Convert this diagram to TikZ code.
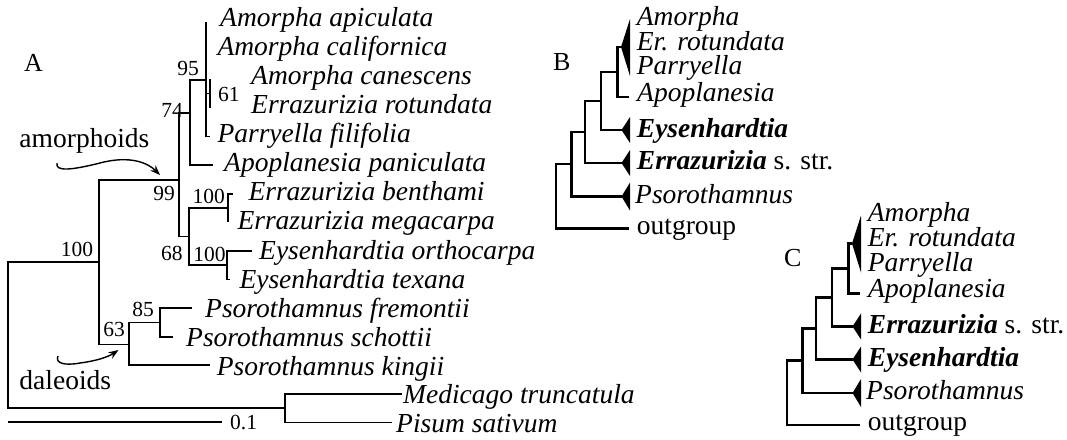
\documentclass[tikz,border=0pt]{standalone}
\usepackage{fontspec}
\setmainfont{Liberation Serif}
\usetikzlibrary{arrows.meta}

\tikzset{
  branchA/.style={line width=1.8pt, line join=miter},
  branchB/.style={line width=2.6pt, line join=miter},
  wedge/.style={fill=black},
  taxon/.style={inner sep=0pt, anchor=base west, font=\fontsize{27.5}{27.5}\selectfont\itshape},
  plainlbl/.style={inner sep=0pt, anchor=base west, font=\fontsize{27.5}{27.5}\selectfont},
  support/.style={inner sep=0pt, anchor=base east, font=\fontsize{21.5}{21.5}\selectfont},
  panel/.style={inner sep=0pt, anchor=base west, font=\fontsize{26}{26}\selectfont},
  callout/.style={line width=1.4pt, -{Stealth[length=10pt,width=7.5pt]}},
}

% collapsed cladogram used for panels B and C
\newcommand\cladepanel[4]{%
  \coordinate (#1amo) at (621,47);
  \coordinate (#1apo) at (628.5,97);
  \coordinate (#1t5) at (621.5,130);
  \coordinate (#1t6) at (621.5,163);
  \coordinate (#1t7) at (621.5,196.5);
  \coordinate (#1out) at (628.5,228.5);
  \coordinate (#1n1) at (617.7,72);
  \coordinate (#1n2) at (601,101);
  \coordinate (#1n3) at (585,132);
  \coordinate (#1n4) at (571.7,164);
  \coordinate (#1root) at (556,196);
  \foreach \p/\c in {n1/amo, n1/apo, n2/n1, n2/t5, n3/n2, n3/t6, n4/n3, n4/t7, root/n4, root/out}
    \draw[branchB] (#1\p) |- (#1\c);
  \fill[wedge] (#1amo) -- ++(9,-28) -- ++(0,57) -- cycle;
  \fill[wedge] (#1t5) -- ++(8.5,-13) -- ++(0,26) -- cycle;
  \fill[wedge] (#1t6) -- ++(8.5,-13) -- ++(0,26) -- cycle;
  \fill[wedge] (#1t7) -- ++(8.5,-14) -- ++(0,28) -- cycle;
  \node[panel] (#1letter) at (553,70) {#2};
  \node[taxon] (#1l1) at (636.7,25) {Amorpha};
  \node[taxon] (#1l2) at (636.7,50) {Er. rotundata};
  \node[taxon] (#1l3) at (636.7,74.5) {Parryella};
  \node[taxon] (#1l4) at (637,101) {Apoplanesia};
  \node[plainlbl] (#1l5) at (636.7,137) {#3};
  \node[plainlbl] (#1l6) at (636.7,169.5) {#4};
  \node[taxon] (#1l7) at (635,203) {Psorothamnus};
  \node[plainlbl] (#1l8) at (636.7,234) {outgroup};
}

\begin{document}
\begin{tikzpicture}[x=1pt, y=-1pt]
\useasboundingbox (0,0) rectangle (1067,439);

% ---------- panel A: phylogram ----------
\coordinate (tA0) at (206,22);
\coordinate (tA1) at (206,50.6);
\coordinate (tA2) at (210,79.2);
\coordinate (tA3) at (210,107.8);
\coordinate (tA4) at (209.5,136.4);
\coordinate (tA5) at (213,165);
\coordinate (tA6) at (233.3,193.6);
\coordinate (tA7) at (228.3,222.2);
\coordinate (tA8) at (251.7,250.8);
\coordinate (tA9) at (230,279.4);
\coordinate (tA10) at (191.7,308);
\coordinate (tA11) at (173.3,336.6);
\coordinate (tA12) at (210,365.2);
\coordinate (tA13) at (401.7,393.8);
\coordinate (tA14) at (391.7,422.4);

\coordinate (nAmo) at (206,80);
\coordinate (n61) at (210,93.5);
\coordinate (n74) at (190,113.3);
\coordinate (n99) at (179,180);
\coordinate (nErr) at (228.3,207.9);
\coordinate (nEys) at (226.7,265.1);
\coordinate (n68) at (189.3,236.5);
\coordinate (nIn) at (99.3,262);
\coordinate (n85) at (160,322.5);
\coordinate (n63) at (129,344.5);
\coordinate (nOut) at (285,408.1);
\coordinate (nRoot) at (8.3,335);

\foreach \p/\c in {nAmo/tA0, nAmo/tA1, nAmo/n61, nAmo/tA4, n61/tA2, n61/tA3,
                   n74/nAmo, n74/tA5, n99/n74, n99/n68, n68/nErr, n68/nEys,
                   nErr/tA6, nErr/tA7, nEys/tA8, nEys/tA9, nIn/n99, nIn/n63,
                   n63/n85, n63/tA12, n85/tA10, n85/tA11, nRoot/nIn, nRoot/nOut,
                   nOut/tA13, nOut/tA14}
  \draw[branchA] (\p) |- (\c);

\node[taxon] (lA0) at (220,27) {Amorpha apiculata};
\node[taxon] (lA1) at (217.3,55.5) {Amorpha californica};
\node[taxon] (lA2) at (251,84) {Amorpha canescens};
\node[taxon] (lA3) at (251,113) {Errazurizia rotundata};
\node[taxon] (lA4) at (217.3,142) {Parryella filifolia};
\node[taxon] (lA5) at (224,171.5) {Apoplanesia paniculata};
\node[taxon] (lA6) at (248.3,200) {Errazurizia benthami};
\node[taxon] (lA7) at (237.3,229.5) {Errazurizia megacarpa};
\node[taxon] (lA8) at (259,259) {Eysenhardtia orthocarpa};
\node[taxon] (lA9) at (239.3,288) {Eysenhardtia texana};
\node[taxon] (lA10) at (205,317) {Psorothamnus fremontii};
\node[taxon] (lA11) at (186,346) {Psorothamnus schottii};
\node[taxon] (lA12) at (216.7,375) {Psorothamnus kingii};
\node[taxon] (lA13) at (403,403.5) {Medicago truncatula};
\node[taxon] (lA14) at (396,432) {Pisum sativum};

% bootstrap support
\node[support] (s95) at (199,75) {95};
\node[support] (s74) at (183,117.3) {74};
\node[support, anchor=base west] (s61) at (218,101.7) {61};
\node[support] (s99) at (175,200.5) {99};
\node[support] (s100e) at (225,203) {100};
\node[support] (s100r) at (93.3,256.7) {100};
\node[support] (s68) at (182.7,260) {68};
\node[support] (s100y) at (225.7,261) {100};
\node[support] (s85) at (154,316.7) {85};
\node[support] (s63) at (125,336.7) {63};

% scale bar
\coordinate (sbL) at (8.3,421.7);
\coordinate (sbR) at (221.7,421.7);
\draw[branchA] (sbL) -- (sbR);
\node[support, anchor=base west] (sbT) at (230,429.3) {0.1};

% group callouts
\node[panel] (letA) at (24,71) {A};
\node[plainlbl] (amor) at (19.3,147) {amorphoids};
\coordinate (amorS) at (57,163);
\coordinate (amorE) at (160,175);
\draw[callout] (amorS) .. controls (55,172) and (72,170) .. (100,163)
               .. controls (130,155) and (148,163) .. (amorE);
\node[plainlbl] (dale) at (19.3,389.3) {daleoids};
\coordinate (daleS) at (58,356);
\coordinate (daleE) at (118.5,350);
\draw[callout] (daleS) .. controls (55,363) and (64,366) .. (80,363)
               .. controls (96,361) and (108,357) .. (daleE);

% ---------- panels B and C: summary cladograms ----------
\cladepanel{b}{B}{\textbf{\textit{Eysenhardtia}}}{\textbf{\textit{Errazurizia}} s. str.}
\begin{scope}[shift={(231,196.5)}]
  \cladepanel{c}{C}{\textbf{\textit{Errazurizia}} s. str.}{\textbf{\textit{Eysenhardtia}}}
\end{scope}
\end{tikzpicture}
\end{document}
